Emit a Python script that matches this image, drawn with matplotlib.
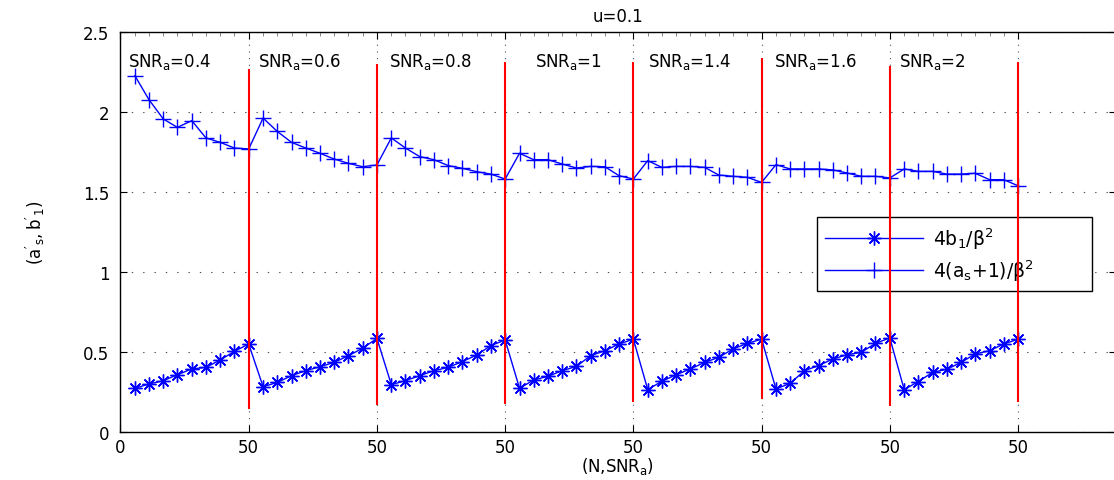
import matplotlib
matplotlib.use('Agg')
import matplotlib.pyplot as plt
import numpy as np
from matplotlib.ticker import FixedLocator

plt.rcParams['font.family'] = ['DejaVu Sans']
plt.rcParams['mathtext.default'] = 'regular'

# ---------------- data ----------------
snr_labels = ['0.4', '0.6', '0.8', '1', '1.4', '1.6', '2']
segment_starts = [0, 50, 100, 150, 200, 250, 300]
N_pos = [5.6, 11.1, 16.7, 22.2, 27.8, 33.3, 38.9, 44.4, 50.0]

upper = [
    [2.227, 2.077, 1.956, 1.904, 1.946, 1.838, 1.810, 1.775, 1.769],
    [1.962, 1.879, 1.810, 1.775, 1.742, 1.706, 1.679, 1.658, 1.669],
    [1.838, 1.775, 1.721, 1.702, 1.665, 1.648, 1.627, 1.612, 1.581],
    [1.742, 1.702, 1.702, 1.675, 1.650, 1.660, 1.658, 1.602, 1.581],
    [1.696, 1.654, 1.660, 1.660, 1.654, 1.606, 1.598, 1.592, 1.560],
    [1.671, 1.644, 1.644, 1.644, 1.638, 1.619, 1.598, 1.598, 1.588],
    [1.644, 1.629, 1.629, 1.612, 1.612, 1.617, 1.577, 1.577, 1.539],
]
lower = [
    [0.273, 0.300, 0.321, 0.358, 0.394, 0.404, 0.450, 0.504, 0.550],
    [0.283, 0.310, 0.352, 0.383, 0.408, 0.435, 0.477, 0.523, 0.585],
    [0.296, 0.321, 0.352, 0.383, 0.404, 0.440, 0.481, 0.540, 0.575],
    [0.273, 0.325, 0.348, 0.383, 0.410, 0.477, 0.508, 0.550, 0.580],
    [0.265, 0.317, 0.358, 0.394, 0.435, 0.467, 0.519, 0.554, 0.580],
    [0.269, 0.304, 0.383, 0.415, 0.456, 0.483, 0.498, 0.554, 0.588],
    [0.265, 0.315, 0.373, 0.392, 0.435, 0.488, 0.508, 0.550, 0.580],
]

red_x = [50, 100, 150, 200, 250, 300, 350]
red_top = [2.27, 2.30, 2.31, 2.315, 2.335, 2.29, 2.315]
red_bottom = [0.144, 0.169, 0.175, 0.188, 0.206, 0.163, 0.188]

label_x = [2.9, 53.6, 104.7, 161.7, 205.8, 255.0, 303.6]
label_y = 2.29

xticks = [0, 50, 100, 150, 200, 250, 300, 350]
xticklabels = ['0', '50', '50', '50', '50', '50', '50', '50']
yticks = [0, 0.5, 1, 1.5, 2, 2.5]
yticklabels = ['0', '0.5', '1', '1.5', '2', '2.5']

# ---------------- figure ----------------
W, H = 1114, 481
fig = plt.figure(figsize=(W / 100, H / 100), dpi=100)
ax_left, ax_right, ax_top, ax_bottom = 120.5, 1115.5, 33, 433
ax = fig.add_axes([ax_left / W, (H - ax_bottom) / H,
                   (ax_right - ax_left) / W, (ax_bottom - ax_top) / H])

x = np.concatenate([[s + n for n in N_pos] for s in segment_starts])
y_up = np.concatenate(upper)
y_lo = np.concatenate(lower)

fs = 12
ax.plot(x, y_lo, color='b', lw=1, marker=(8, 2, 0), ms=10, mew=1,
        label='4b$_1$/β$^2$', zorder=3)
ax.plot(x, y_up, color='b', lw=1, marker='+', ms=12, mew=1,
        label='4(a$_s$+1)/β$^2$', zorder=3)
ax.vlines(red_x, red_bottom, red_top, colors='r', lw=1.5, zorder=6)

for lx, s in zip(label_x, snr_labels):
    ax.text(lx, label_y, 'SNR$_a$=' + s, fontsize=fs, ha='left',
            va='baseline', zorder=7)

ax.set_xlim(0, 388)
ax.set_ylim(0, 2.5)
ax.set_xticks(xticks)
ax.set_xticklabels(xticklabels)
ax.set_yticks(yticks)
ax.set_yticklabels(yticklabels)
ax.xaxis.set_minor_locator(FixedLocator(x))

ax.xaxis.grid(True, which='major', linestyle=(0, (1, 5)), color='0.3', lw=0.8)
ax.yaxis.grid(True, which='major', linestyle=(0, (1.2, 9)), color='0.3', lw=0.8)
ax.set_axisbelow(True)

ax.tick_params(which='major', direction='in', length=5, width=0.8,
               top=True, right=True, labelsize=fs)
ax.tick_params(axis='x', which='major', pad=4)
ax.tick_params(axis='y', which='major', pad=8)
ax.tick_params(axis='x', which='minor', direction='in', length=3, width=0.6,
               bottom=False, top=True, color='0.45')
for sp in ax.spines.values():
    sp.set_linewidth(1.0)

ax.set_title('u=0.1', fontsize=fs, pad=8)
ax.set_xlabel('(N,SNR$_a$)', fontsize=fs)
ax.xaxis.set_label_coords(0.5, (ax_bottom - 467) / (ax_bottom - ax_top))
ax.xaxis.label.set_va('center')
ax.set_ylabel("$(a'_s,b'_1)$", fontsize=fs)
ax.yaxis.set_label_coords((35 - ax_left) / (ax_right - ax_left), 0.5)
ax.yaxis.label.set_va('center')

leg_x = (817 - ax_left) / (ax_right - ax_left)
leg_w = (1092 - 817) / (ax_right - ax_left)
leg_y = (ax_bottom - 218) / (ax_bottom - ax_top)
leg = ax.legend(loc='upper left', bbox_to_anchor=(leg_x, leg_y - 0.2, leg_w, 0.2),
                mode='expand', borderaxespad=0, fancybox=False, edgecolor='k',
                framealpha=1, fontsize=13.5, handlelength=5.2,
                handletextpad=0.55, borderpad=0.45, labelspacing=0.35,
                numpoints=1)
leg.get_frame().set_linewidth(1.0)
leg.set_zorder(5)

fig.savefig('out.png', dpi=100)
